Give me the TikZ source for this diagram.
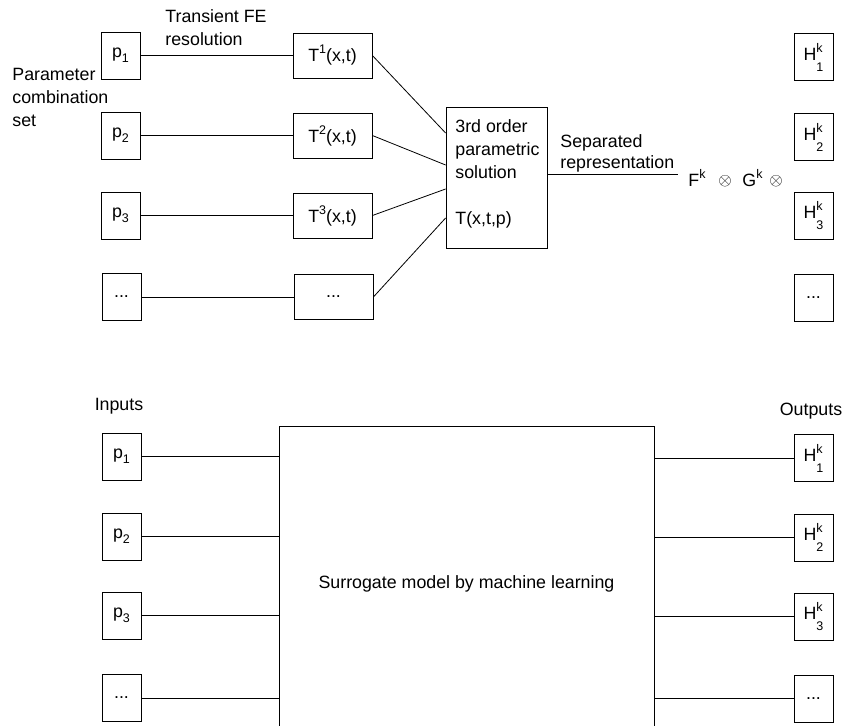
\documentclass[tikz,border=0pt]{standalone}
\usepackage{fontspec}
\setmainfont{Liberation Sans}
\newcommand{\lowix}[1]{\raisebox{-5pt}{\fontsize{12.5}{12.5}\selectfont #1}}
\newcommand{\highix}[1]{\raisebox{8pt}{\fontsize{12.5}{12.5}\selectfont #1}}
\newcommand{\hk}[1]{H\makebox[0pt][l]{\highix{k}}\raisebox{-11pt}{\fontsize{12.5}{12.5}\selectfont #1}}
\tikzstyle{box} = [draw, minimum width=39pt, minimum height=47pt, inner sep=0pt]
\tikzstyle{tbox} = [draw, minimum width=79pt, minimum height=45pt, inner sep=0pt]
\tikzstyle{lbl} = [inner sep=0pt, align=left]
\tikzstyle{otm} = [inner sep=0pt, font=\fontsize{17}{17}\selectfont]

\begin{document}
\begin{tikzpicture}[x=1pt,y=-1pt,line width=0.8pt,font=\fontsize{17.8}{23}\selectfont]
\useasboundingbox (0,0) rectangle (858,725);
\clip (0,0) rectangle (858,725);
% upper part: FE snapshots and separated representation
\node[lbl, anchor=north west] (fe) at (165,9) {Transient FE\\resolution};
\node[lbl, anchor=north west] (pset) at (12,68) {Parameter\\combination\\set};
\node[box] (p1) at (120.5,55.5) {p\lowix{1}};
\node[box] (p2) at (120.5,135.5) {p\lowix{2}};
\node[box] (p3) at (120.5,215.5) {p\lowix{3}};
\node[box] (p4) at (121.5,297) {...};
\node[tbox] (t1) at (332.5,55.5) {T\highix{1}(x,t)};
\node[tbox] (t2) at (332.5,135.5) {T\highix{2}(x,t)};
\node[tbox] (t3) at (332.5,215.5) {T\highix{3}(x,t)};
\node[tbox] (t4) at (333.5,297) {...};
\node[draw, minimum width=101pt, minimum height=141pt] (sol) at (496.5,177.5) {};
\node[lbl, anchor=north west] (soltxt) at (455,119.5) {3rd order\\parametric\\solution\\[23pt]T(x,t,p)};
\draw (p1) -- (t1);
\draw (p2) -- (t2);
\draw (p3) -- (t3);
\draw (p4) -- (t4);
\draw (t1.east) -- ([yshift=44.5pt]sol.west);
\draw (t2.east) -- ([yshift=12.5pt]sol.west);
\draw (t3.east) -- ([yshift=-11.5pt]sol.west);
\draw (t4.east) -- ([yshift=-40.5pt]sol.west);
\coordinate (sep) at (678,174);
\draw (sol.east |- sep) -- (sep);
\node[lbl, anchor=north west, font=\fontsize{17.8}{21}\selectfont] (seplbl) at (560,134) {Separated\\representation};
\node[lbl, anchor=base west] (fk) at (688,186) {F\highix{k}};
\node[otm] (ot1) at (725,181) {$\otimes$};
\node[lbl, anchor=base west] (gk) at (742,186) {G\highix{k}};
\node[otm] (ot2) at (776,181) {$\otimes$};
\node[box] (h1) at (813.5,57) {\hk{1}};
\node[box] (h2) at (813.5,137) {\hk{2}};
\node[box] (h3) at (813.5,216) {\hk{3}};
\node[box] (h4) at (813.5,298) {...};
% lower part: surrogate model
\node[lbl, anchor=base] (inp) at (119,410.5) {Inputs};
\node[lbl, anchor=base] (outp) at (811,415) {Outputs};
\node[draw, minimum width=375pt, minimum height=315pt, anchor=north] (sur) at (466.5,426) {Surrogate model by machine learning};
\node[box] (q1) at (121.5,456.5) {p\lowix{1}};
\node[box] (q2) at (121.5,536.5) {p\lowix{2}};
\node[box] (q3) at (121.5,615.5) {p\lowix{3}};
\node[box] (q4) at (121.5,698) {...};
\node[box] (k1) at (813.5,458) {\hk{1}};
\node[box] (k2) at (813.5,537.5) {\hk{2}};
\node[box] (k3) at (813.5,616.5) {\hk{3}};
\node[box] (k4) at (813.5,698.5) {...};
\draw (q1) -- (q1 -| sur.west);
\draw (q2) -- (q2 -| sur.west);
\draw (q3) -- (q3 -| sur.west);
\draw (q4) -- (q4 -| sur.west);
\draw (k1 -| sur.east) -- (k1);
\draw (k2 -| sur.east) -- (k2);
\draw (k3 -| sur.east) -- (k3);
\draw (k4 -| sur.east) -- (k4);
\end{tikzpicture}
\end{document}
